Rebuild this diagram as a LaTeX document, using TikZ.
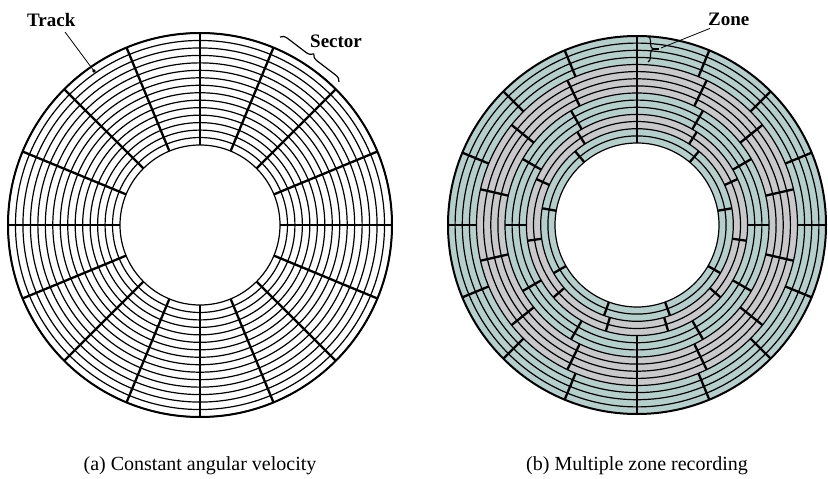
\documentclass[tikz,border=0pt]{standalone}
\usepackage{fontspec}
\setmainfont{Liberation Serif}
\usetikzlibrary{decorations.pathreplacing,calc}
\definecolor{zteal}{RGB}{181,208,204}
\definecolor{zgray}{RGB}{201,201,204}
\begin{document}
\begin{tikzpicture}[x=1pt,y=-1pt,
  track/.style={line width=1.2pt},
  rim/.style={line width=2pt},
  sectorline/.style={line width=2.3pt},
  lbl/.style={font=\fontsize{19}{22}\selectfont\bfseries, inner sep=0pt},
  captext/.style={font=\fontsize{20}{23}\selectfont, inner sep=0pt},
  leaderline/.style={line width=0.8pt}]
\useasboundingbox (0,0) rectangle (828,479);
\fill[white] (0,0) rectangle (828,479);

% ---------- (a) constant angular velocity
\coordinate (A) at (200,225);
\foreach \i in {0,...,15} { \draw[track] (A) circle [radius={80pt+\i*112pt/15}]; }
\draw[rim] (A) circle [radius=192pt];
\foreach \a in {0,22.5,...,337.5} { \draw[sectorline] ($(A)+(\a:80pt)$) -- ($(A)+(\a:192pt)$); }

\node[lbl, anchor=base west] (track) at (27,26) {Track};
\coordinate (trackpt) at (94,71);
\draw[leaderline] (65,32) -- (trackpt);
\fill (trackpt) circle [radius=1.8pt];

\node[lbl, anchor=base west] (sector) at (310,47) {Sector};
\draw[line width=1.2pt, decorate, decoration={brace, amplitude=7pt}] (280,37) -- (339,82);

\node[captext, anchor=base] (capa) at (200,470) {(a) Constant angular velocity};

% ---------- (b) multiple zone recording
\coordinate (B) at (637,225);
\fill[zteal] (B) circle [radius=189pt];
\fill[zgray] (B) circle [radius=160.5pt];
\fill[zteal] (B) circle [radius=132pt];
\fill[zgray] (B) circle [radius=110.6pt];
\fill[zteal] (B) circle [radius=96.3pt];
\fill[white] (B) circle [radius=82pt];
\foreach \r in {181.9,174.7,167.6,160.5,153.4,146.2,139.1,132,124.9,117.7,110.6,103.5,96.3,89.1,82} { \draw[track] (B) circle [radius=\r pt]; }
\draw[rim] (B) circle [radius=189pt];
% zone sector boundaries: n sectors per zone, all aligned at 90 degrees
\foreach \n/\ri/\ro in {16/160.5/189, 14/132/160.5, 12/110.6/132, 11/96.3/110.6, 9/82/96.3} {
  \pgfmathtruncatemacro{\last}{\n-1}
  \foreach \k in {0,...,\last} {
    \pgfmathsetmacro{\ang}{90+\k*360/\n}
    \draw[sectorline] ($(B)+(\ang:\ri pt)$) -- ($(B)+(\ang:\ro pt)$);
  }
}

\node[lbl, anchor=base west] (zone) at (708,25) {Zone};
\draw[line width=1.1pt, decorate, decoration={brace, amplitude=5pt}] (648,36) -- (648,62);
\draw[line width=1.8pt] (653,49) -- (659,49);
\draw[leaderline] (zone.south west) ++(2,3) -- (661,48);

\node[captext, anchor=base] (capb) at (637,470) {(b) Multiple zone recording};
\end{tikzpicture}
\end{document}
